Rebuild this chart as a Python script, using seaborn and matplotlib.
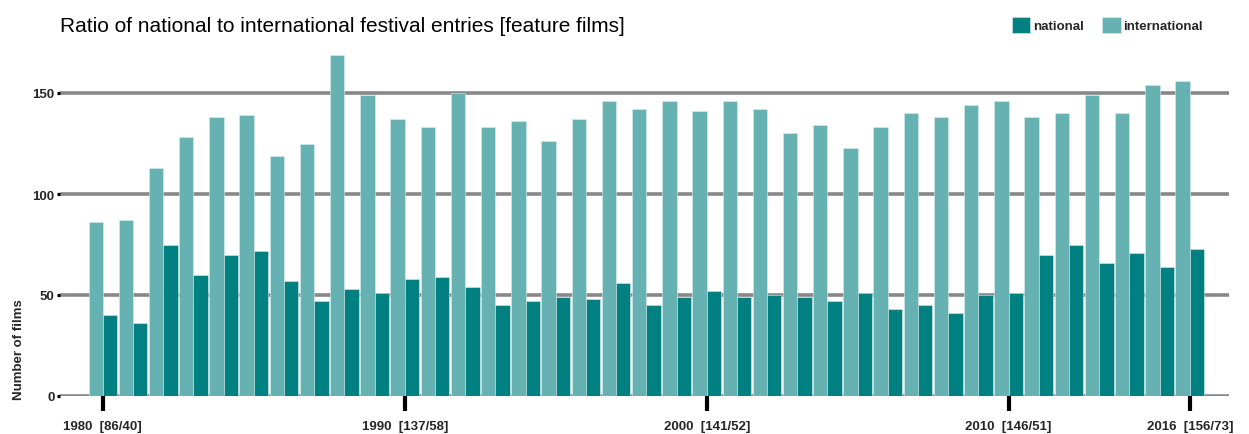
import pandas as pd
import seaborn as sns
import matplotlib.pyplot as plt
from matplotlib.patches import Patch

# Festival entries per year (feature films)
years = list(range(1980, 2017))
international = [86, 87, 113, 128, 138, 139, 119, 125, 169, 149,
                 137, 133, 150, 133, 136, 126, 137, 146, 142, 146,
                 141, 146, 142, 130, 134, 123, 133, 140, 138, 144,
                 146, 138, 140, 149, 140, 154, 156]
national = [40, 36, 75, 60, 70, 72, 57, 47, 53, 51,
            58, 59, 54, 45, 47, 49, 48, 56, 45, 49,
            52, 49, 50, 49, 47, 51, 43, 45, 41, 50,
            51, 70, 75, 66, 71, 64, 73]
label_years = [1980, 1990, 2000, 2010, 2016]

dark = '#008080'
light = '#66b2b2'

df = pd.DataFrame({'year': years * 2,
                   'count': international + national,
                   'type': ['international'] * len(years) + ['national'] * len(years)})

sns.set_style('white')
plt.rcParams['font.family'] = ['Liberation Sans', 'DejaVu Sans']

fig = plt.figure(figsize=(12.49, 4.35), dpi=100)
ax = fig.add_axes([60 / 1249, 1 - 397 / 435, (1229 - 60) / 1249, (397 - 53.6) / 435])

sns.barplot(data=df, x='year', y='count', hue='type',
            hue_order=['international', 'national'],
            palette={'international': light, 'national': dark},
            saturation=1, width=0.95, edgecolor='#d8ecec', linewidth=0.4,
            ax=ax, legend=False, zorder=2)

ax.set_xlim(-1.42, 37.3)
ax.set_ylim(0, 170)
ax.set_yticks([0, 50, 100, 150])
ax.yaxis.grid(True, color='#888888', linewidth=2.6, zorder=0)
ax.set_axisbelow(True)
for s in ax.spines.values():
    s.set_visible(False)

# x ticks only at selected years, label shows [international/national]
pos = [years.index(y) for y in label_years]
ax.set_xticks(pos)
ax.set_xticklabels([f'{y}  [{international[i]}/{national[i]}]' for y, i in zip(label_years, pos)],
                   fontsize=9.5, fontweight='bold')
ax.tick_params(axis='x', bottom=True, length=11, width=3, color='black', pad=6, direction='out')
ax.tick_params(axis='y', left=True, length=2.3, width=2.3, color='black', pad=1.5, labelsize=9.5)
for t in ax.get_yticklabels():
    t.set_fontweight('bold')

ax.set_xlabel('')
ax.set_ylabel('Number of films', fontsize=9.5, fontweight='bold')
ax.yaxis.set_label_coords(-0.030, 0.137)

fig.text(60 / 1249, 1 - 27 / 435, 'Ratio of national to international festival entries [feature films]',
         fontsize=15, va='center', ha='left', color='black')

handles = [Patch(facecolor=dark, edgecolor='#d8ecec', linewidth=0.4),
           Patch(facecolor=light, edgecolor='#d8ecec', linewidth=0.4)]
fig.legend(handles, ['national', 'international'], loc='center left',
           bbox_to_anchor=(1000 / 1249, 1 - 26 / 435), ncol=2, frameon=False,
           handlelength=1.4, handleheight=1.4, handletextpad=0.2,
           columnspacing=1.4, prop={'weight': 'bold', 'size': 9.5})

plt.savefig('out.png', dpi=100)
plt.close()
